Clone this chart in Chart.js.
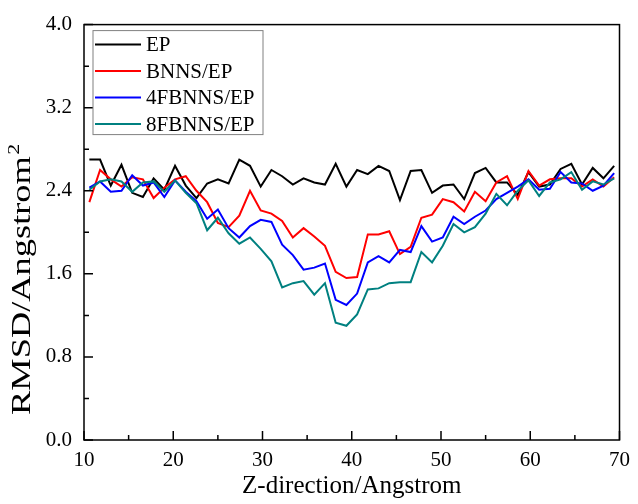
<!DOCTYPE html>
<html lang="en">
<head>
    <meta charset="UTF-8">
    <title>RMSD vs Z-direction</title>
    <script src="https://cdn.jsdelivr.net/npm/chart.js"></script>
    <style>
        body {
            margin: 0;
            background-color: #ffffff;
        }
        #rmsdChart {
            display: block;
        }
    </style>
</head>
<body>
    <canvas id="rmsdChart" width="638" height="504"></canvas>
    <script>
        // Z positions (Angstrom)
        const zPos = [10.6, 11.8, 13.0, 14.2, 15.4, 16.6, 17.8, 19.0, 20.2, 21.4,
                      22.6, 23.8, 25.0, 26.2, 27.4, 28.6, 29.8, 31.0, 32.2, 33.4,
                      34.6, 35.8, 37.0, 38.2, 39.4, 40.6, 41.8, 43.0, 44.2, 45.4,
                      46.6, 47.8, 49.0, 50.2, 51.4, 52.6, 53.8, 55.0, 56.2, 57.4,
                      58.6, 59.8, 61.0, 62.2, 63.4, 64.6, 65.8, 67.0, 68.2, 69.4];

        const ep = [2.70, 2.70, 2.45, 2.65, 2.38, 2.34, 2.52, 2.41, 2.64, 2.45,
                    2.33, 2.47, 2.51, 2.47, 2.70, 2.64, 2.44, 2.60, 2.54, 2.46,
                    2.52, 2.48, 2.46, 2.66, 2.44, 2.60, 2.56, 2.64, 2.59, 2.31,
                    2.59, 2.60, 2.38, 2.45, 2.46, 2.32, 2.57, 2.62, 2.48, 2.48,
                    2.36, 2.58, 2.44, 2.46, 2.61, 2.66, 2.46, 2.62, 2.52, 2.64];

        const bnns = [2.29, 2.60, 2.51, 2.44, 2.53, 2.51, 2.33, 2.43, 2.51, 2.54,
                      2.40, 2.29, 2.09, 2.05, 2.16, 2.40, 2.21, 2.18, 2.11, 1.95,
                      2.04, 1.96, 1.87, 1.62, 1.56, 1.57, 1.98, 1.98, 2.01, 1.79,
                      1.86, 2.14, 2.17, 2.32, 2.29, 2.20, 2.39, 2.30, 2.48, 2.54,
                      2.32, 2.59, 2.45, 2.51, 2.52, 2.52, 2.44, 2.51, 2.44, 2.53];

        const fbnns4 = [2.43, 2.49, 2.39, 2.40, 2.55, 2.45, 2.48, 2.34, 2.50, 2.39,
                        2.30, 2.13, 2.22, 2.04, 1.95, 2.06, 2.12, 2.10, 1.88, 1.78,
                        1.64, 1.66, 1.70, 1.35, 1.30, 1.41, 1.71, 1.77, 1.71, 1.83,
                        1.81, 2.06, 1.91, 1.95, 2.15, 2.08, 2.15, 2.21, 2.32, 2.38,
                        2.44, 2.51, 2.41, 2.42, 2.58, 2.48, 2.47, 2.40, 2.45, 2.57];

        const fbnns8 = [2.41, 2.49, 2.51, 2.49, 2.39, 2.48, 2.49, 2.39, 2.50, 2.38,
                        2.28, 2.02, 2.14, 1.99, 1.89, 1.95, 1.84, 1.72, 1.47, 1.51,
                        1.53, 1.40, 1.51, 1.13, 1.10, 1.21, 1.45, 1.46, 1.51, 1.52,
                        1.52, 1.81, 1.71, 1.87, 2.08, 2.00, 2.05, 2.18, 2.37, 2.26,
                        2.40, 2.50, 2.35, 2.48, 2.51, 2.58, 2.41, 2.49, 2.46, 2.52];

        const seriesNames = ['EP', 'BNNS/EP', '4FBNNS/EP', '8FBNNS/EP'];
        const seriesColors = ['#000000', '#ff0000', '#0000ff', '#008080'];
        const seriesData = [ep, bnns, fbnns4, fbnns8];

        const xMajor = [10, 20, 30, 40, 50, 60, 70];
        const xMinor = [15, 25, 35, 45, 55, 65];
        const yMajor = [0, 0.8, 1.6, 2.4, 3.2, 4.0];
        const yMinor = [0.4, 1.2, 2.0, 2.8, 3.6];

        const serif = "'Liberation Serif', 'Times New Roman', serif";

        // frame, inward ticks, y title with superscript and boxed legend (like the Origin plot)
        const framePlugin = {
            id: 'frame',
            afterDraw(chart) {
                const c = chart.ctx;
                const area = chart.chartArea;
                const xs = chart.scales.x;
                const ys = chart.scales.y;
                c.save();
                c.strokeStyle = '#000';
                c.lineWidth = 1.5;
                c.strokeRect(area.left, area.top, area.right - area.left, area.bottom - area.top);

                c.beginPath();
                xMajor.forEach(v => {
                    const px = xs.getPixelForValue(v);
                    c.moveTo(px, area.bottom);
                    c.lineTo(px, area.bottom - 9);
                });
                xMinor.forEach(v => {
                    const px = xs.getPixelForValue(v);
                    c.moveTo(px, area.bottom);
                    c.lineTo(px, area.bottom - 5);
                });
                yMajor.forEach(v => {
                    const py = ys.getPixelForValue(v);
                    c.moveTo(area.left, py);
                    c.lineTo(area.left + 9, py);
                });
                yMinor.forEach(v => {
                    const py = ys.getPixelForValue(v);
                    c.moveTo(area.left, py);
                    c.lineTo(area.left + 5, py);
                });
                c.stroke();

                // y axis title, stretched along its length as in the exported figure
                c.save();
                c.fillStyle = '#000';
                c.translate(30, 415);
                c.rotate(-Math.PI / 2);
                c.scale(1.3, 1);
                c.textBaseline = 'alphabetic';
                c.textAlign = 'left';
                c.font = '28px ' + serif;
                const yTitle = 'RMSD/Angstrom';
                c.fillText(yTitle, 0, 0);
                const tw = c.measureText(yTitle).width;
                c.font = '17px ' + serif;
                c.fillText('2', tw + 1, -11);
                c.restore();

                // legend box
                const bx = area.left + 9;
                const by = area.top + 6;
                c.strokeStyle = '#808080';
                c.lineWidth = 1;
                c.strokeRect(bx, by, 170, 104);
                c.font = '21px ' + serif;
                c.textBaseline = 'middle';
                c.fillStyle = '#000';
                seriesNames.forEach((name, i) => {
                    const ly = by + 14 + i * 26.5;
                    c.strokeStyle = seriesColors[i];
                    c.lineWidth = 2;
                    c.beginPath();
                    c.moveTo(bx + 2, ly);
                    c.lineTo(bx + 48, ly);
                    c.stroke();
                    c.fillText(name, bx + 53, ly + 1);
                });
                c.restore();
            }
        };

        const ctx = document.getElementById('rmsdChart').getContext('2d');
        const rmsdChart = new Chart(ctx, {
            type: 'line',
            data: {
                datasets: seriesNames.map((name, i) => ({
                    label: name,
                    data: zPos.map((z, k) => ({ x: z, y: seriesData[i][k] })),
                    borderColor: seriesColors[i],
                    backgroundColor: seriesColors[i],
                    borderWidth: 2,
                    pointRadius: 0,
                    tension: 0,
                    order: 3 - i
                }))
            },
            options: {
                responsive: false,
                animation: false,
                devicePixelRatio: 1,
                layout: {
                    padding: { left: 0, top: 20, right: 12, bottom: 0 }
                },
                plugins: {
                    legend: { display: false },
                    tooltip: { enabled: false }
                },
                scales: {
                    x: {
                        type: 'linear',
                        min: 10,
                        max: 70,
                        grid: { display: false, drawTicks: false },
                        border: { display: false },
                        ticks: {
                            stepSize: 10,
                            padding: 8,
                            color: '#000',
                            maxRotation: 0,
                            font: { family: serif, size: 21 }
                        },
                        title: {
                            display: true,
                            text: 'Z-direction/Angstrom',
                            color: '#000',
                            padding: { top: 0, bottom: 3 },
                            font: { family: serif, size: 25 }
                        },
                        afterFit(scale) { scale.height = 64; }
                    },
                    y: {
                        min: 0,
                        max: 4,
                        grid: { display: false, drawTicks: false },
                        border: { display: false },
                        ticks: {
                            stepSize: 0.8,
                            padding: 12,
                            color: '#000',
                            font: { family: serif, size: 21 },
                            callback: v => v.toFixed(1)
                        },
                        afterFit(scale) { scale.width = 84; }
                    }
                }
            },
            plugins: [framePlugin]
        });
    </script>
</body>
</html>
